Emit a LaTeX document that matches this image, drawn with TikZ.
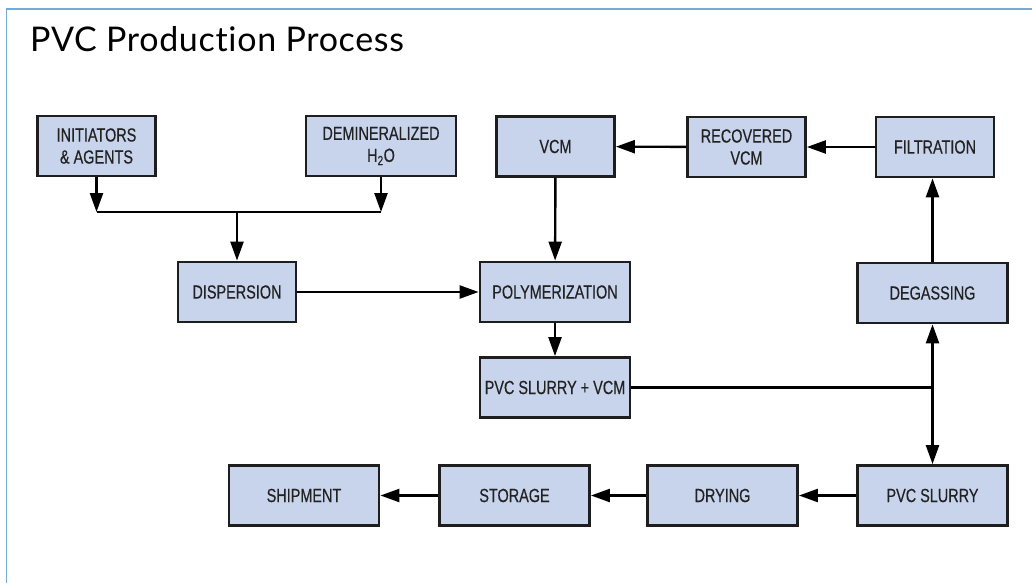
\documentclass[tikz,border=0pt]{standalone}
\usepackage{fontspec}
\setmainfont{Liberation Sans}
\newfontfamily\titlefont{Lato}[Ligatures=CommonOff,LetterSpace=2]
\newfontfamily\boxfont{Liberation Sans}[FakeStretch=0.76,FakeBold=0.4]
\usetikzlibrary{arrows.meta}
\definecolor{boxfill}{HTML}{C8D4EC}
\definecolor{boxline}{HTML}{1E1E1E}
\definecolor{framecol}{HTML}{74AAD6}
\definecolor{txt}{HTML}{222222}
\tikzset{
  box/.style={draw=boxline,fill=boxfill,line width=2.8pt,minimum width=118pt,
    minimum height=60pt,inner sep=0pt,align=center,text=txt,
    font=\boxfont\fontsize{19}{22}\selectfont},
  widebox/.style={box,minimum width=150pt},
  flow/.style={line width=2.4pt,-{Triangle[length=19pt,width=13pt]}},
  pipe/.style={line width=2.4pt}
}
\begin{document}
\begin{tikzpicture}[x=1pt,y=-1pt]
\useasboundingbox (0,0) rectangle (1032,583);
% frame
\draw[framecol,line width=1.8pt] (1032,9) -- (6.5,9) -- (6.5,583);
\node[anchor=base west,inner sep=0pt,text=black,font=\titlefont\fontsize{34}{40}\selectfont] (title) at (30,52) {PVC Production Process};
% top row
\node[box] (init) at (96.5,146) {INITIATORS\\\& AGENTS};
\node[widebox] (demin) at (381,146) {DEMINERALIZED\\H\textsubscript{2}O};
\node[box] (vcm) at (555.5,146.5) {VCM};
\node[box] (recvcm) at (746.5,147) {RECOVERED\\VCM};
\node[box] (filt) at (935,147) {FILTRATION};
% middle
\node[box] (disp) at (237,292) {DISPERSION};
\node[widebox] (poly) at (555,292) {POLYMERIZATION};
\node[widebox] (degas) at (932.5,293) {DEGASSING};
\node[widebox] (slurvcm) at (555,387.5) {PVC SLURRY + VCM};
% bottom row
\node[widebox] (ship) at (304,495.5) {SHIPMENT};
\node[widebox] (store) at (514.5,495.5) {STORAGE};
\node[widebox] (dry) at (722.5,495.5) {DRYING};
\node[widebox] (slurry) at (932.5,495.5) {PVC SLURRY};
% connectors
\coordinate (mix) at (237,212);
\draw[flow] (init) -- (init |- mix);
\draw[flow] (demin) -- (demin |- mix);
\draw[pipe] (init |- mix) -- (demin |- mix);
\draw[flow] (mix) -- (disp);
\draw[flow] (disp) -- (poly);
\draw[flow] (vcm) -- (poly);
\draw[flow] (poly) -- (slurvcm);
\draw[flow] (recvcm) -- (vcm);
\draw[flow] (filt) -- (recvcm);
\draw[flow] (degas.north) -- (degas.north |- filt.south);
\coordinate (split) at (degas.south |- slurvcm);
\draw[pipe] (slurvcm) -- (split);
\draw[flow] (split) -- (degas.south);
\draw[flow] (split) -- (slurry.north);
\draw[flow] (slurry) -- (dry);
\draw[flow] (dry) -- (store);
\draw[flow] (store) -- (ship);
\end{tikzpicture}
\end{document}
